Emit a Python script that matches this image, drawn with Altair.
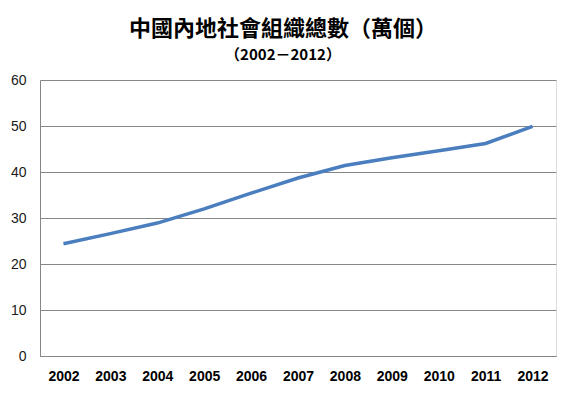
import altair as alt
import pandas as pd

years = ["2002", "2003", "2004", "2005", "2006", "2007", "2008", "2009", "2010", "2011", "2012"]
values = [24.4, 26.6, 28.9, 32.0, 35.4, 38.7, 41.4, 43.1, 44.6, 46.2, 49.9]

df = pd.DataFrame({"year": years, "value": values})

font = "Noto Sans CJK TC"

chart = alt.Chart(df).mark_line(color="#4A7EBF", strokeWidth=3.5).encode(
    x=alt.X("year:O", sort=years, title=None,
            scale=alt.Scale(type="point", padding=0.5),
            axis=alt.Axis(labelAngle=0, labelFontWeight="bold", labelFontSize=14,
                          labelColor="#000000", labelFont="Liberation Sans", ticks=False,
                          domainColor="#868686", labelPadding=13, grid=False)),
    y=alt.Y("value:Q", title=None,
            scale=alt.Scale(domain=[0, 60]),
            axis=alt.Axis(values=[0, 10, 20, 30, 40, 50, 60], ticks=False,
                          labelFontSize=14, labelColor="#1a1a1a", labelFont="Liberation Sans",
                          labelPadding=14, gridColor="#868686", domainColor="#868686")),
).properties(
    width=516,
    height=276,
    autosize=alt.AutoSizeParams(type="none"),
    padding={"left": 32, "top": 72, "right": 24, "bottom": 33},
    title=alt.TitleParams(
        text="中國內地社會組織總數（萬個）",
        subtitle="（2002－2012）",
        font=font, fontSize=22, fontWeight="bold", color="#000000",
        subtitleFont=font, subtitleFontSize=15, subtitleFontWeight="bold",
        subtitleColor="#000000", subtitlePadding=7,
        anchor="middle", dx=-15, offset=9,
    ),
).configure_view(stroke=None).configure(background="#ffffff")

chart.save("out.html", embed_options={"renderer": "svg", "actions": False})
